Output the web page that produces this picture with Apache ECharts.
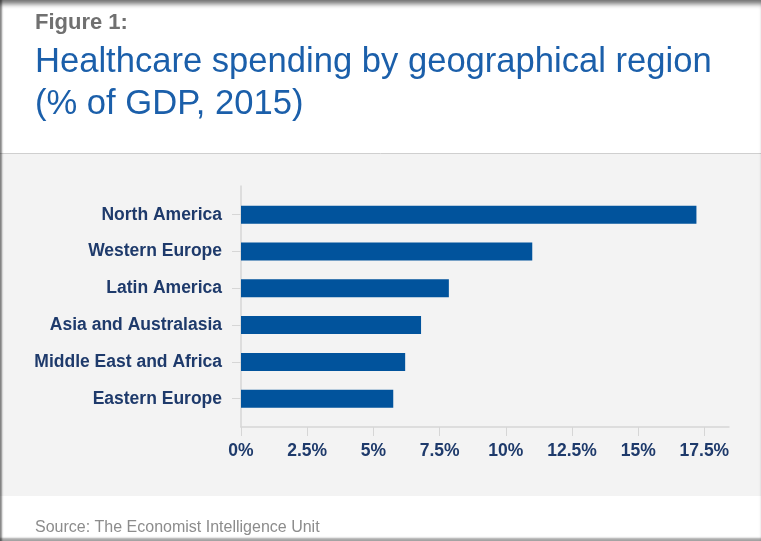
<!DOCTYPE html>
<html>
<head>
<meta charset="utf-8">
<script src="https://cdn.jsdelivr.net/npm/echarts@6/dist/echarts.min.js"></script>
<style>
  html, body { margin: 0; padding: 0; background: #ffffff; }
  #wrap { position: relative; width: 761px; height: 541px; overflow: hidden; }
  #chart { position: absolute; left: 0; top: 0; width: 761px; height: 541px; }
  /* card edge shading */
  #edge {
    position: absolute; left: 0; top: 0; width: 761px; height: 541px; pointer-events: none;
    box-shadow: inset 3px 0 2px -1px rgba(0,0,0,0.45),
                inset 0 7px 5px -3px rgba(0,0,0,0.55),
                inset 0 -4px 2px -1px rgba(0,0,0,0.35);
  }
</style>
</head>
<body>
<div id="wrap">
  <div id="chart"></div>
  <div id="edge"></div>
</div>
<script>
// Regions, top to bottom
const regions = [
  'North America',
  'Western Europe',
  'Latin America',
  'Asia and Australasia',
  'Middle East and Africa',
  'Eastern Europe'
];
// Healthcare spending, % of GDP (2015)
const spending = [17.2, 11.0, 7.85, 6.8, 6.2, 5.75];
// Percentage tick positions on the value axis
const pctTicks = [0, 2.5, 5, 7.5, 10, 12.5, 15, 17.5];

const navy = '#1e3a6b';
const axisGrey = '#d6d6d6';
const labelFont = { fontFamily: 'Liberation Sans, Arial, sans-serif', fontSize: 17.5, fontWeight: 'bold', color: navy };
const xMax = 18.43;

const chart = echarts.init(document.getElementById('chart'), null, { renderer: 'canvas' });

chart.setOption({
  backgroundColor: '#ffffff',
  animation: false,
  title: [
    {
      text: 'Figure 1:',
      left: 35, top: 12, padding: 0,
      textStyle: { fontFamily: 'Liberation Sans, Arial, sans-serif', fontSize: 22, fontWeight: 'bold', color: '#707070' }
    },
    {
      text: 'Healthcare spending by geographical region\n(% of GDP, 2015)',
      left: 35, top: 41, padding: 0,
      textStyle: { fontFamily: 'Liberation Sans, Arial, sans-serif', fontSize: 34.6, fontWeight: 'normal', color: '#1b5faa', lineHeight: 42 }
    },
    {
      text: 'Source: The Economist Intelligence Unit',
      left: 35, top: 520, padding: 0,
      textStyle: { fontFamily: 'Liberation Sans, Arial, sans-serif', fontSize: 16, fontWeight: 'normal', color: '#8c8c8c' }
    }
  ],
  graphic: [
    {
      type: 'rect', z: -10, silent: true,
      shape: { x: 0, y: 153, width: 761, height: 343 },
      style: { fill: '#f3f3f3', stroke: null }
    },
    {
      type: 'line', z: -9, silent: true,
      shape: { x1: 0, y1: 153.5, x2: 761, y2: 153.5 },
      style: { stroke: '#cfcfcf', lineWidth: 1 }
    }
  ],
  grid: [
    // bars
    { left: 241, right: 32, top: 196.3, height: 220.8, containLabel: false },
    // axis frame
    { left: 241, right: 32, top: 186, height: 241, containLabel: false }
  ],
  xAxis: [
    {
      gridIndex: 0, type: 'value', min: 0, max: xMax, show: false
    },
    {
      gridIndex: 1, type: 'value', min: 0, max: xMax,
      axisLine: { show: true, lineStyle: { color: axisGrey, width: 1.5 } },
      axisTick: { show: true, length: 9, lineStyle: { color: axisGrey, width: 1 }, customValues: pctTicks },
      axisLabel: {
        show: true, margin: 15, customValues: pctTicks,
        formatter: v => v + '%',
        ...labelFont
      },
      splitLine: { show: false }
    }
  ],
  yAxis: [
    {
      gridIndex: 0, type: 'category', data: regions, inverse: true,
      axisLine: { show: false },
      axisTick: { show: true, alignWithLabel: true, length: 9, lineStyle: { color: axisGrey, width: 1 } },
      axisLabel: { show: true, margin: 19, ...labelFont },
      splitLine: { show: false }
    },
    {
      gridIndex: 1, type: 'value', min: 0, max: 1,
      axisLine: { show: true, lineStyle: { color: axisGrey, width: 1.5 } },
      axisTick: { show: false },
      axisLabel: { show: false },
      splitLine: { show: false }
    }
  ],
  series: [
    {
      type: 'bar',
      xAxisIndex: 0, yAxisIndex: 0,
      data: spending,
      barWidth: 18,
      itemStyle: { color: '#01539c' },
      silent: true
    }
  ]
});
</script>
</body>
</html>
